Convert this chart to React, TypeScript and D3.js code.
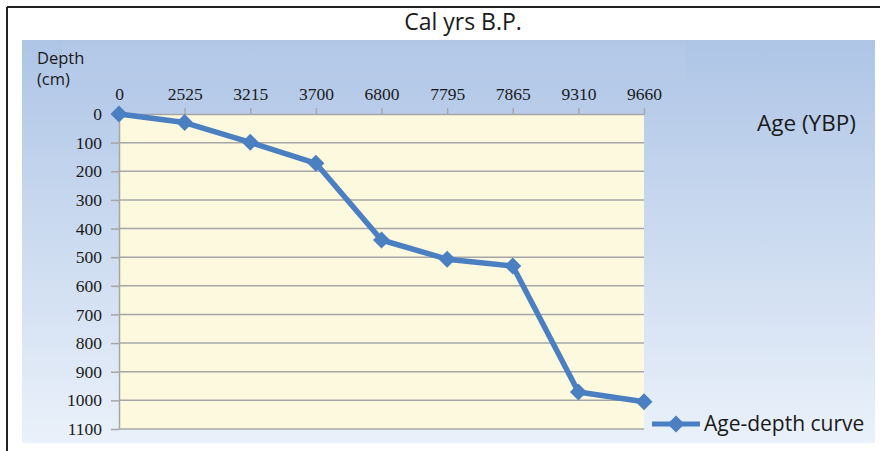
import React, { useEffect, useRef } from "react";
import * as d3 from "d3";

// ages (cal yrs B.P.) shown as evenly spaced categories
const ages = ["0", "2525", "3215", "3700", "6800", "7795", "7865", "9310", "9660"];
const depths = [0, 30, 99, 172, 440, 507, 531, 971, 1005];
const depthTicks = [0, 100, 200, 300, 400, 500, 600, 700, 800, 900, 1000, 1100];

const W = 880;
const H = 451;
const plot = { left: 119, right: 644, top: 114, bottom: 429 };
const lineColor = "#4a7fc1";
const serif = "'Liberation Serif', 'DejaVu Serif', serif";
const sans = "'Open Sans', 'Liberation Sans', sans-serif";

export default function App() {
  const ref = useRef<SVGGElement>(null);

  useEffect(() => {
    const g = d3.select(ref.current);
    g.selectAll("*").remove();

    const x = d3.scalePoint<string>().domain(ages).range([plot.left, plot.right]);
    const y = d3.scaleLinear().domain([0, 1100]).range([plot.top, plot.bottom]);

    // plot area
    g.append("rect")
      .attr("x", plot.left)
      .attr("y", plot.top)
      .attr("width", plot.right - plot.left)
      .attr("height", plot.bottom - plot.top)
      .attr("fill", "#fdf9de");

    // horizontal gridlines
    g.selectAll(".grid")
      .data(depthTicks.slice(1))
      .enter()
      .append("line")
      .attr("x1", plot.left)
      .attr("x2", plot.right)
      .attr("y1", d => y(d))
      .attr("y2", d => y(d))
      .attr("stroke", "#a6a6a6")
      .attr("stroke-width", 1.5);

    // y axis (left)
    const yAxis = g.append("g")
      .attr("transform", `translate(${plot.left},0)`)
      .call(d3.axisLeft(y).tickValues(depthTicks).tickFormat(d3.format("d")).tickSize(8).tickPadding(9).tickSizeOuter(0));
    yAxis.select(".domain").attr("stroke", "#a6a6a6").attr("stroke-width", 1.5);
    yAxis.selectAll(".tick line").attr("stroke", "#a6a6a6").attr("stroke-width", 1.5);
    yAxis.selectAll("text")
      .attr("fill", "#1a1a1a")
      .attr("font-family", serif)
      .attr("font-size", 17.5);

    // x axis on top
    const xAxis = g.append("g")
      .attr("transform", `translate(0,${plot.top})`)
      .call(d3.axisTop(x).tickSize(6).tickPadding(8).tickSizeOuter(0));
    xAxis.select(".domain").attr("stroke", "#a6a6a6").attr("stroke-width", 1.5);
    xAxis.selectAll(".tick line").attr("stroke", "#a6a6a6").attr("stroke-width", 1.5);
    xAxis.selectAll("text")
      .attr("fill", "#1a1a1a")
      .attr("font-family", serif)
      .attr("font-size", 17.5);

    // line
    const pts = ages.map((a, i) => ({ age: a, depth: depths[i] }));
    const line = d3.line<{ age: string; depth: number }>()
      .x(d => x(d.age) as number)
      .y(d => y(d.depth));

    g.append("path")
      .datum(pts)
      .attr("d", line)
      .attr("fill", "none")
      .attr("stroke", lineColor)
      .attr("stroke-width", 5.5)
      .attr("stroke-linejoin", "round");

    const diamond = d3.symbol().type(d3.symbolDiamond2).size(185);
    g.selectAll(".pt")
      .data(pts)
      .enter()
      .append("path")
      .attr("d", diamond)
      .attr("transform", d => `translate(${x(d.age)},${y(d.depth)})`)
      .attr("fill", lineColor);

    // legend
    const lg = g.append("g").attr("transform", "translate(652,424)");
    lg.append("line")
      .attr("x1", 0).attr("x2", 48).attr("y1", 0).attr("y2", 0)
      .attr("stroke", lineColor).attr("stroke-width", 5);
    lg.append("path")
      .attr("d", diamond)
      .attr("transform", "translate(24,0)")
      .attr("fill", lineColor);
    lg.append("text")
      .attr("x", 52).attr("y", 0).attr("dy", "0.35em")
      .text("Age-depth curve")
      .attr("font-family", sans)
      .attr("font-size", 21)
      .attr("fill", "#1a1a1a");
  }, []);

  return (
    <div style={{ position: "absolute", left: 0, top: 0 }}>
      <svg width={W} height={H} style={{ display: "block" }}>
        <defs>
          <linearGradient id="bg" x1="0" y1="0" x2="0" y2="1">
            <stop offset="0%" stopColor="#aec5e6" />
            <stop offset="100%" stopColor="#eaf1fa" />
          </linearGradient>
        </defs>
        <rect x={0} y={0} width={W} height={H} fill="#ffffff" />
        <rect x={22} y={40} width={853} height={403} fill="url(#bg)" />
        <rect x={62} y={41} width={623} height={40} fill="#ffffff" opacity={0.05} />
        <line x1={7} y1={7} x2={W} y2={7} stroke="#222" strokeWidth={2} />
        <line x1={7} y1={7} x2={7} y2={H} stroke="#222" strokeWidth={2} />
        <text x={463} y={30} textAnchor="middle" fontFamily={sans} fontSize={23} fill="#1a1a1a">
          Cal yrs B.P.
        </text>
        <text x={37} y={64} fontFamily={sans} fontSize={16.5} fill="#1a1a1a">Depth</text>
        <text x={37} y={85} fontFamily={sans} fontSize={16.5} fill="#1a1a1a">(cm)</text>
        <text x={757} y={131} fontFamily={sans} fontSize={22.5} fill="#1a1a1a">Age (YBP)</text>
        <g ref={ref} />
      </svg>
    </div>
  );
}
